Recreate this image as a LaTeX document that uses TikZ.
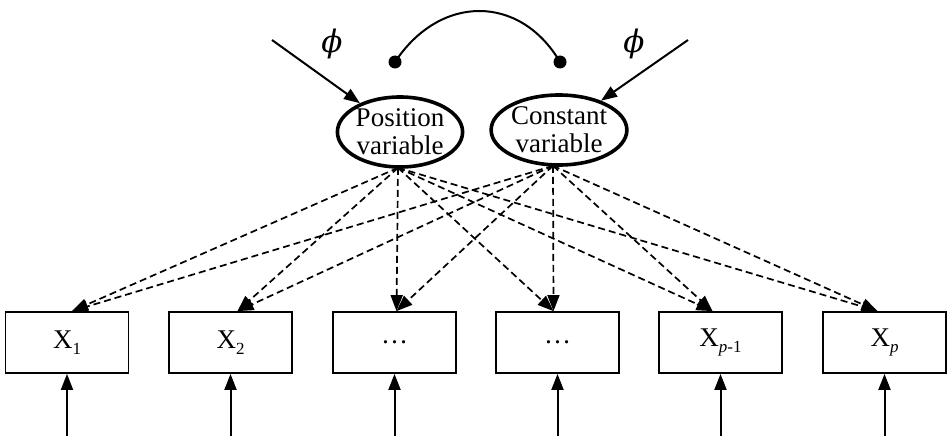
\documentclass[tikz,border=0pt]{standalone}
\usepackage{fontspec}
\setmainfont{Liberation Serif}
\newfontfamily\phifont{DejaVu Serif}
\usetikzlibrary{arrows.meta,shapes.geometric}
\tikzset{
  latent/.style={ellipse, draw, line width=3.6pt, minimum width=125pt, minimum height=70pt, inner sep=0pt, align=center, font=\fontsize{27}{28}\selectfont},
  obs/.style={rectangle, draw, line width=1.8pt, minimum width=123pt, minimum height=61pt, inner sep=0pt, font=\fontsize{27}{28}\selectfont},
  dotnode/.style={circle, fill=black, minimum size=13pt, inner sep=0pt},
  solidarr/.style={line width=2pt, -{Triangle[length=16pt,width=12pt]}},
  dasharr/.style={line width=1.7pt, dash pattern=on 7pt off 4pt, -{Triangle[length=16pt,width=12pt]}},
  lbl/.style={inner sep=0pt, font=\phifont\itshape\fontsize{31}{31}\selectfont}
}
\newcommand{\lowsub}[1]{\raisebox{-0.22em}{\fontsize{17}{17}\selectfont #1}}
\begin{document}
\begin{tikzpicture}[x=1pt,y=-1pt]
\useasboundingbox (0,0) rectangle (947,436);
% latent variables
\node[latent] (pos) at (400,132) {Position\\variable};
\node[latent] (con) at (559,130) {Constant\\variable};
% observed
\node[obs] (x1) at (67,342.5) {X\lowsub{1}};
\node[obs] (x2) at (230.5,342.5) {X\lowsub{2}};
\node[obs] (x3) at (394.5,342.5) {…};
\node[obs] (x4) at (557.5,342.5) {…};
\node[obs] (x5) at (720.5,342.5) {X\lowsub{\textit{p}-1}};
\node[obs] (x6) at (884.5,342.5) {X\lowsub{\textit{p}}};
% phi errors
\coordinate (e1) at (272,40);
\coordinate (e2) at (688,40);
\node[lbl] (phi1) at (332,44) {ϕ};
\node[lbl] (phi2) at (634,44) {ϕ};
\draw[solidarr] (e1) -- (pos);
\draw[solidarr] (e2) -- (con);
% correlation
\node[dotnode] (d1) at (395,62) {};
\node[dotnode] (d2) at (560,62) {};
\draw[line width=2pt] (d1.center) .. controls (440,-6) and (520,-6) .. (d2.center);
% dashed loadings
\coordinate (ps) at ([xshift=-2pt,yshift=1pt]pos.south);
\coordinate (cs) at ([xshift=-6pt,yshift=1pt]con.south);
\foreach \t/\o in {x1/5, x2/7, x3/2, x4/-4, x5/-8, x6/-7}{
  \draw[dasharr] (ps) -- ([xshift=\o pt]\t.north);
  \draw[dasharr] (cs) -- ([xshift=\o pt]\t.north);
}
% bottom error arrows
\foreach \t in {x1,x2,x3,x4,x5,x6}{
  \coordinate (b\t) at (\t.south |- 0,436);
  \draw[solidarr] (b\t) -- (\t.south);
}
\end{tikzpicture}
\end{document}
